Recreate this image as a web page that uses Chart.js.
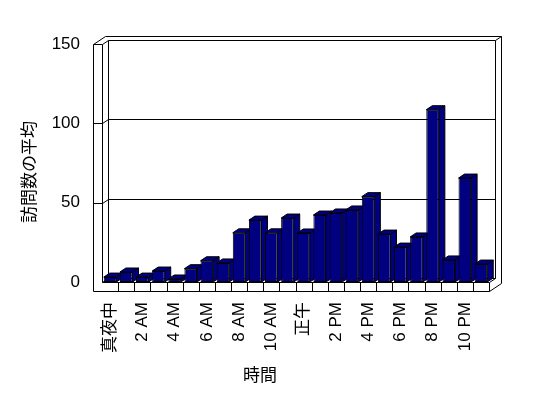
<!DOCTYPE html>
<html>
<head>
<meta charset="utf-8">
<script src="https://cdn.jsdelivr.net/npm/chart.js@4/dist/chart.umd.min.js"></script>
<style>
  html, body { margin: 0; padding: 0; background: #fff; }
  #wrap { width: 548px; height: 398px; }
</style>
</head>
<body>
<div id="wrap"><canvas id="chart" width="548" height="398"></canvas></div>
<script>
const hours = [
  "真夜中", "1 AM", "2 AM", "3 AM", "4 AM", "5 AM", "6 AM", "7 AM", "8 AM", "9 AM", "10 AM", "11 AM",
  "正午", "1 PM", "2 PM", "3 PM", "4 PM", "5 PM", "6 PM", "7 PM", "8 PM", "9 PM", "10 PM", "11 PM"
];
const visits = [
  3.1, 6.3, 3.1, 6.9, 1.9, 8.4, 13.4, 12, 31, 39, 31, 40.3,
  30.9, 42.2, 43.5, 45.4, 53.8, 30.2, 22, 28.4, 108.6, 13.9, 65.5, 11.3
];
const yTicks = [0, 50, 100, 150];
const yTitle = "訪問数の平均";
const xTitle = "時間";

const FONT = '"Liberation Sans", "Noto Sans CJK JP", sans-serif';
const NAVY = "#000080";
// depth of the 3d box and wall thickness (whole pixels so lines stay crisp)
const dx = 6, dy = -4, wall = 9;

Chart.defaults.font.family = FONT;
Chart.defaults.font.size = 17;
Chart.defaults.color = "#000";

function px(v) { return Math.round(v) + 0.5; }

// walls, floor and gridlines behind the bars
const frame3d = {
  id: "frame3d",
  beforeDatasetsDraw(chart) {
    const { ctx, chartArea } = chart;
    const yScale = chart.scales.y;
    const xScale = chart.scales.x;
    const L = px(chartArea.left), R = px(chartArea.right);
    const T = px(chartArea.top), B = px(chartArea.bottom);
    ctx.save();
    ctx.strokeStyle = "#000";
    ctx.lineWidth = 1;

    function line(pts) {
      ctx.beginPath();
      ctx.moveTo(pts[0][0], pts[0][1]);
      for (let i = 1; i < pts.length; i++) ctx.lineTo(pts[i][0], pts[i][1]);
      ctx.stroke();
    }

    // back wall
    line([[L + dx, T + dy], [R + dx, T + dy], [R + dx, B + dy], [L + dx, B + dy], [L + dx, T + dy]]);
    // outer outline
    line([[L - wall, B + wall], [L - wall, T], [L - wall + 2 * dx, T + 2 * dy],
          [R + 2 * dx, T + 2 * dy], [R + 2 * dx, B + wall + 2 * dy], [R, B + wall]]);
    // left wall front face
    line([[L - wall, T], [L, T], [L, B]]);
    line([[L, T], [L + dx, T + dy]]);
    line([[R + dx, T + dy], [R + 2 * dx, T + 2 * dy]]);
    // floor
    line([[L - wall, B + wall], [R, B + wall], [R, B], [L, B], [L + dx, B + dy]]);
    line([[R, B], [R + dx, B + dy]]);
    const step = xScale.getPixelForValue(1) - xScale.getPixelForValue(0);
    for (let i = 1; i < hours.length; i++) {
      const x = px(xScale.getPixelForValue(i) - step / 2);
      line([[x, B], [x, B + wall]]);
    }
    // gridlines on left wall and back wall
    yTicks.forEach((v) => {
      if (v === yTicks[0] || v === yTicks[yTicks.length - 1]) return;
      const y = px(yScale.getPixelForValue(v));
      line([[L - wall, y], [L, y], [L + dx, y + dy], [R + dx, y + dy]]);
    });

    // bar tops and sides
    const meta = chart.getDatasetMeta(0);
    meta.data.forEach((bar) => {
      const x0 = bar.x - bar.width / 2;
      const x1 = bar.x + bar.width / 2;
      const top = bar.y, base = bar.base;
      ctx.fillStyle = NAVY;
      ctx.beginPath();
      ctx.moveTo(x1, top);
      ctx.lineTo(x1 + dx, top + dy);
      ctx.lineTo(x1 + dx, base + dy);
      ctx.lineTo(x1, base);
      ctx.closePath();
      ctx.fill();
      ctx.stroke();
      ctx.beginPath();
      ctx.moveTo(x0, top);
      ctx.lineTo(x0 + dx, top + dy);
      ctx.lineTo(x1 + dx, top + dy);
      ctx.lineTo(x1, top);
      ctx.closePath();
      ctx.fill();
      ctx.stroke();
    });
    ctx.restore();
  },
  afterDraw(chart) {
    const { ctx } = chart;
    ctx.save();
    ctx.fillStyle = "#000";
    ctx.font = "17px " + FONT;
    ctx.textAlign = "center";
    ctx.textBaseline = "middle";
    ctx.fillText(xTitle, 260, 376);
    ctx.translate(30, 172);
    ctx.rotate(-Math.PI / 2);
    ctx.fillText(yTitle, 0, 0);
    ctx.restore();
  }
};

new Chart(document.getElementById("chart"), {
  type: "bar",
  data: {
    labels: hours,
    datasets: [{
      data: visits,
      backgroundColor: NAVY,
      borderColor: "#000",
      borderWidth: 1,
      borderSkipped: false,
      barPercentage: 0.78,
      categoryPercentage: 1
    }]
  },
  options: {
    responsive: false,
    animation: false,
    layout: { padding: { top: 44, right: 59, left: 0, bottom: 0 } },
    plugins: { legend: { display: false }, tooltip: { enabled: false } },
    scales: {
      x: {
        grid: { display: false, drawTicks: false, tickLength: 0 },
        border: { display: false },
        afterFit: (s) => { s.height = 116; },
        ticks: {
          autoSkip: false,
          maxRotation: 90,
          minRotation: 90,
          padding: 20,
          callback: (v, i) => (i % 2 === 0 ? hours[i] : "")
        }
      },
      y: {
        min: 0,
        max: 150,
        grid: { display: false, drawTicks: false, tickLength: 0 },
        border: { display: false },
        afterFit: (s) => { s.width = 102; },
        afterBuildTicks: (s) => { s.ticks = yTicks.map((v) => ({ value: v })); },
        ticks: { padding: 22 }
      }
    }
  },
  plugins: [frame3d]
});
</script>
</body>
</html>
